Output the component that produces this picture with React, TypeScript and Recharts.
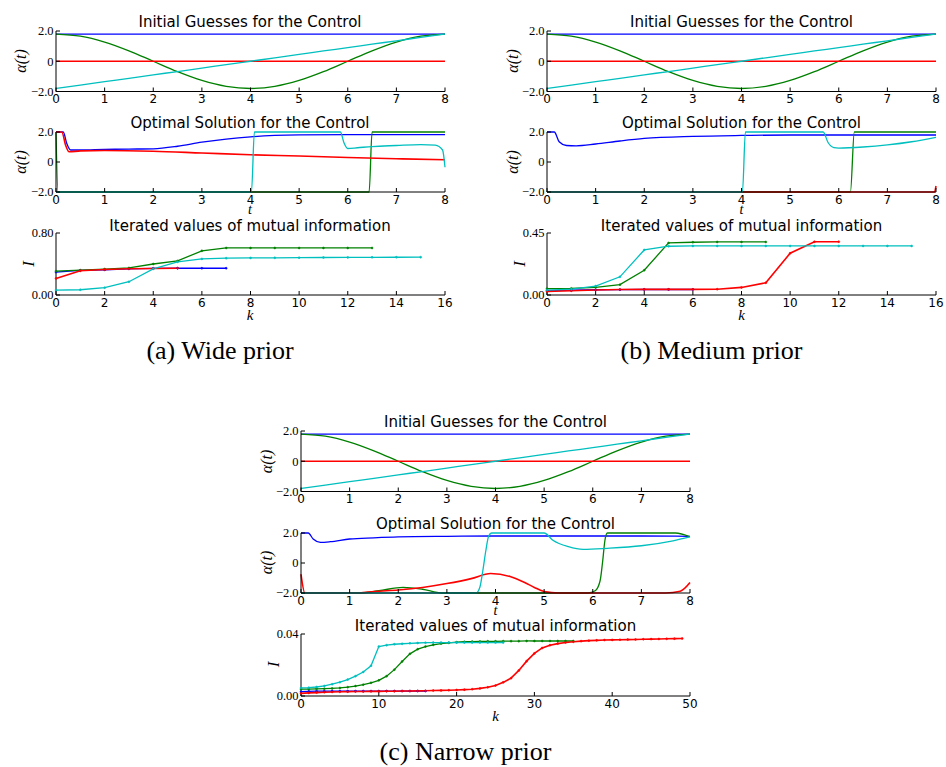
import React from 'react';
import { LineChart, Line, XAxis, YAxis } from 'recharts';

const BLUE = '#0000ff';
const GREEN = '#008000';
const RED = '#ff0000';
const CYAN = '#00bfbf';

// ---------- Initial guesses (identical in all three panels) ----------
const initTimes = [0, 0.5, 1, 1.5, 2, 2.5, 3, 3.5, 4, 4.5, 5, 5.5, 6, 6.5, 7, 7.5, 8];
const initBlue = [1.8, 1.8, 1.8, 1.8, 1.8, 1.8, 1.8, 1.8, 1.8, 1.8, 1.8, 1.8, 1.8, 1.8, 1.8, 1.8, 1.8];
const initGreen = [1.8, 1.66, 1.27, 0.69, 0, -0.69, -1.27, -1.66, -1.8, -1.66, -1.27, -0.69, 0, 0.69, 1.27, 1.66, 1.8];
const initRed = [0, 0, 0, 0, 0, 0, 0, 0, 0, 0, 0, 0, 0, 0, 0, 0, 0];
const initCyan = [-1.8, -1.58, -1.35, -1.13, -0.9, -0.68, -0.45, -0.23, 0, 0.23, 0.45, 0.68, 0.9, 1.13, 1.35, 1.58, 1.8];

// ---------- Optimal solutions [t, alpha] ----------
const optWideBlue = [[0, 2], [0.15, 2], [0.22, 1.25], [0.3, 0.8], [0.5, 0.8], [1, 0.84], [1.5, 0.86], [2, 0.88], [2.5, 1.05], [3, 1.32], [3.5, 1.53], [4, 1.68], [4.5, 1.77], [5, 1.81], [6, 1.83], [7, 1.83], [8, 1.83]];
const optWideGreen = [[0, 2], [0.04, -2], [6.44, -2], [6.5, 2], [8, 2]];
const optWideRed = [[0, 2], [0.12, 2], [0.2, 1.1], [0.27, 0.68], [0.5, 0.74], [1, 0.77], [2, 0.72], [3, 0.6], [4, 0.48], [5, 0.4], [6, 0.3], [7, 0.22], [8, 0.15]];
const optWideCyan = [[0, -2], [4.02, -2], [4.08, 2], [5.85, 2], [5.92, 1.3], [6, 0.9], [6.2, 0.95], [6.5, 1.03], [7, 1.1], [7.5, 1.16], [7.8, 1.12], [7.95, 0.8], [8, -0.35]];

const optMedBlue = [[0, 2], [0.15, 2], [0.25, 1.35], [0.4, 1.1], [0.6, 1.08], [1, 1.2], [1.5, 1.4], [2, 1.57], [3, 1.71], [4, 1.77], [5, 1.8], [6, 1.8], [7, 1.8], [8, 1.8]];
const optMedGreen = [[0, -2], [6.24, -2], [6.32, 2], [8, 2]];
const optMedRed = [[0, -2], [7.97, -2], [8, -1.6]];
const optMedCyan = [[0, -2], [4.02, -2], [4.08, 2], [5.68, 2], [5.78, 1.3], [5.9, 0.96], [6, 0.93], [6.5, 1.0], [7, 1.14], [7.5, 1.35], [8, 1.65]];

const optNarBlue = [[0, 2], [0.15, 2], [0.25, 1.6], [0.4, 1.38], [0.6, 1.42], [1, 1.6], [1.5, 1.68], [2, 1.74], [3, 1.78], [4, 1.8], [5, 1.8], [6, 1.8], [7, 1.8], [8, 1.78]];
const optNarGreen = [[0, -2], [1.2, -2], [1.6, -1.85], [2.1, -1.62], [2.5, -1.75], [2.9, -2], [5.9, -2], [6.05, -1.85], [6.15, -1.2], [6.2, 0], [6.25, 1.5], [6.3, 2], [7.7, 2], [8, 1.75]];
const optNarRed = [[0, -0.75], [0.08, -2], [1.2, -2], [1.5, -1.9], [2, -1.8], [2.5, -1.63], [3, -1.37], [3.5, -1.04], [3.9, -0.7], [4.3, -0.9], [4.6, -1.3], [4.8, -1.63], [5.0, -1.9], [5.3, -2], [7.5, -2], [7.8, -1.88], [8, -1.3]];
const optNarCyan = [[0, -2], [3.6, -2], [3.68, -1.6], [3.74, -0.5], [3.8, 0.8], [3.86, 1.8], [3.92, 2], [5.0, 2], [5.18, 1.52], [5.5, 1.09], [5.8, 0.91], [6.3, 0.98], [7, 1.15], [7.65, 1.48], [8, 1.74]];

// ---------- Iterated mutual information (value at k = 0, 1, 2, ...) ----------
const miWideBlue = [0.295, 0.317, 0.325, 0.338, 0.344, 0.345, 0.345, 0.345];
const miWideGreen = [0.308, 0.32, 0.334, 0.35, 0.4, 0.44, 0.57, 0.607, 0.607, 0.607, 0.607, 0.607, 0.607, 0.607];
const miWideRed = [0.214, 0.312, 0.33, 0.338, 0.342, 0.346];
const miWideCyan = [0.064, 0.068, 0.094, 0.171, 0.338, 0.428, 0.466, 0.475, 0.479, 0.48, 0.482, 0.484, 0.485, 0.486, 0.487, 0.488];

const miMedBlue = [0.032, 0.035, 0.038, 0.039, 0.04, 0.04, 0.04];
const miMedGreen = [0.046, 0.048, 0.055, 0.075, 0.18, 0.378, 0.383, 0.385, 0.385, 0.385];
const miMedRed = [0.026, 0.031, 0.036, 0.04, 0.041, 0.041, 0.041, 0.042, 0.055, 0.089, 0.303, 0.387, 0.387];
const miMedCyan = [0.036, 0.043, 0.065, 0.132, 0.327, 0.354, 0.356, 0.356, 0.356, 0.356, 0.356, 0.356, 0.356, 0.356, 0.356, 0.356];

const miNarBlue = [0.0028, 0.003, 0.0031, 0.0031, 0.0032, 0.0032, 0.0032, 0.0032, 0.0032, 0.0032, 0.0032, 0.0032, 0.0032, 0.0032, 0.0032, 0.0032, 0.0032];
const miNarGreen = [0.0044, 0.0045, 0.0046, 0.0047, 0.0049, 0.0052, 0.0057, 0.0064, 0.0073, 0.0085, 0.0101, 0.0128, 0.017, 0.0223, 0.0272, 0.0302, 0.0319, 0.033, 0.0338, 0.0343, 0.0347, 0.035, 0.0351, 0.0352, 0.0353, 0.0353, 0.0354, 0.0354, 0.0354, 0.0355, 0.0355, 0.0355, 0.0355, 0.0355, 0.0355, 0.0355];
const miNarRed = [0.0017, 0.002, 0.0022, 0.0024, 0.0026, 0.0027, 0.0028, 0.0029, 0.0029, 0.003, 0.003, 0.0031, 0.0031, 0.0032, 0.0032, 0.0033, 0.0034, 0.0035, 0.0036, 0.0037, 0.0039, 0.0041, 0.0044, 0.0049, 0.0056, 0.0068, 0.0088, 0.0115, 0.0165, 0.0225, 0.0275, 0.031, 0.0328, 0.0338, 0.0345, 0.035, 0.0354, 0.0357, 0.0359, 0.0361, 0.0362, 0.0363, 0.0364, 0.0365, 0.0366, 0.0367, 0.0368, 0.0369, 0.037, 0.0371];
const miNarCyan = [0.0052, 0.0054, 0.0058, 0.0065, 0.0076, 0.0089, 0.0106, 0.0128, 0.0155, 0.0195, 0.0319, 0.0328, 0.0334, 0.0337, 0.034, 0.0342, 0.0344, 0.0345, 0.0345, 0.0345, 0.0345, 0.0345, 0.0345, 0.0345, 0.0345, 0.0345, 0.0345];

// ---------- Axis ticks ----------
const tTicks = [0, 1, 2, 3, 4, 5, 6, 7, 8];
const alphaTicks = [-2, 0, 2];
const alphaTickLabels = ['\u22122.0', '0', '2.0'];
const kTicksWM = [0, 2, 4, 6, 8, 10, 12, 14, 16];
const kTicksN = [0, 10, 20, 30, 40, 50];
const miMaxWide = 0.8;
const miMaxMed = 0.45;
const miMaxNar = 0.04;
const miLabelsWide = ['0.00', '0.80'];
const miLabelsMed = ['0.00', '0.45'];
const miLabelsNar = ['0.00', '0.04'];

const titles = ['Initial Guesses for the Control', 'Optimal Solution for the Control', 'Iterated values of mutual information'];
const captions = ['(a) Wide prior', '(b) Medium prior', '(c) Narrow prior'];

// ---------- helpers ----------
const fromTimes = (ts: number[], vs: number[]) => ts.map((x, i) => ({ x, y: vs[i] }));
const fromPairs = (ps: number[][]) => ps.map(([x, y]) => ({ x, y }));
const fromIter = (vs: number[]) => vs.map((y, i) => ({ x: i, y }));

const noTick = () => <g />;

type S = { color: string; data: { x: number; y: number }[] };

function Plot(props: {
  left: number; top: number; w: number; h: number;
  xDomain: number[]; xTicks: number[];
  yDomain: number[]; yTicks: number[]; yLabels: string[];
  series: S[]; dots?: boolean; curve: 'monotone' | 'linear';
}) {
  const { left, top, w, h, xDomain, xTicks, yDomain, yTicks, yLabels, series, dots, curve } = props;
  const YW = 50, MT = 8, MR = 8, XH = 26;
  return (
    <div style={{ position: 'absolute', left: left - YW, top: top - MT }}>
      <LineChart width={YW + w + MR} height={MT + h + XH} margin={{ top: MT, right: MR, bottom: 0, left: 0 }}>
        <XAxis type="number" dataKey="x" domain={xDomain} ticks={xTicks} interval={0} height={XH}
          tickSize={-4} tickMargin={7} stroke="#000"
          tick={{ fontFamily: 'DejaVu Sans', fontSize: 12, fill: '#000' }} />
        <XAxis xAxisId="top" orientation="top" type="number" dataKey="x" domain={xDomain} ticks={xTicks} interval={0}
          height={0} tickSize={-4} stroke="#000" tick={noTick} />
        <YAxis type="number" domain={yDomain} ticks={yTicks} interval={0} width={YW}
          tickSize={-4} tickMargin={6.4} stroke="#000"
          tickFormatter={(v: number) => yLabels[yTicks.indexOf(v)] ?? String(v)}
          tick={{ fontFamily: 'Liberation Serif', fontSize: 12.5, fill: '#000' }} />
        <YAxis yAxisId="right" orientation="right" type="number" domain={yDomain} ticks={yTicks} interval={0}
          width={0} tickSize={-4} stroke="#000" tick={noTick} />
        {series.map((s, i) => (
          <Line key={i} data={s.data} dataKey="y" type={curve} stroke={s.color}
            strokeWidth={s.color === RED ? 1.6 : 1.3}
            dot={dots ? { r: 1, fill: s.color, stroke: s.color, strokeWidth: 0.5 } : false}
            activeDot={false} isAnimationActive={false} />
        ))}
      </LineChart>
    </div>
  );
}

const PL = 55.5;
const PW = 389;
const ROWS = [{ top: 30.5, h: 60.5 }, { top: 132, h: 60 }, { top: 233, h: 62 }];
const PANELS = [{ ox: 0, oy: 0 }, { ox: 491.5, oy: 0 }, { ox: 245.5, oy: 400.5 }];

export default function App() {
  const initSeries: S[] = [
    { color: BLUE, data: fromTimes(initTimes, initBlue) },
    { color: GREEN, data: fromTimes(initTimes, initGreen) },
    { color: RED, data: fromTimes(initTimes, initRed) },
    { color: CYAN, data: fromTimes(initTimes, initCyan) },
  ];
  const optSeries: S[][] = [
    [{ color: BLUE, data: fromPairs(optWideBlue) }, { color: GREEN, data: fromPairs(optWideGreen) }, { color: RED, data: fromPairs(optWideRed) }, { color: CYAN, data: fromPairs(optWideCyan) }],
    [{ color: BLUE, data: fromPairs(optMedBlue) }, { color: GREEN, data: fromPairs(optMedGreen) }, { color: RED, data: fromPairs(optMedRed) }, { color: CYAN, data: fromPairs(optMedCyan) }],
    [{ color: BLUE, data: fromPairs(optNarBlue) }, { color: GREEN, data: fromPairs(optNarGreen) }, { color: RED, data: fromPairs(optNarRed) }, { color: CYAN, data: fromPairs(optNarCyan) }],
  ];
  const miSeries: S[][] = [
    [{ color: BLUE, data: fromIter(miWideBlue) }, { color: GREEN, data: fromIter(miWideGreen) }, { color: RED, data: fromIter(miWideRed) }, { color: CYAN, data: fromIter(miWideCyan) }],
    [{ color: BLUE, data: fromIter(miMedBlue) }, { color: GREEN, data: fromIter(miMedGreen) }, { color: RED, data: fromIter(miMedRed) }, { color: CYAN, data: fromIter(miMedCyan) }],
    [{ color: BLUE, data: fromIter(miNarBlue) }, { color: GREEN, data: fromIter(miNarGreen) }, { color: RED, data: fromIter(miNarRed) }, { color: CYAN, data: fromIter(miNarCyan) }],
  ];
  const miMax = [miMaxWide, miMaxMed, miMaxNar];
  const miLabels = [miLabelsWide, miLabelsMed, miLabelsNar];
  const kTicks = [kTicksWM, kTicksWM, kTicksN];

  const serif = 'Liberation Serif, DejaVu Serif, serif';
  const sans = 'DejaVu Sans, sans-serif';

  return (
    <div style={{ position: 'absolute', left: 0, top: 0, width: 946, height: 767, background: '#fff', overflow: 'hidden' }}>
      {PANELS.map((p, pi) => (
        <React.Fragment key={pi}>
          <Plot left={p.ox + PL} top={p.oy + ROWS[0].top} w={PW} h={ROWS[0].h}
            xDomain={[0, 8]} xTicks={tTicks} yDomain={[-2, 2]} yTicks={alphaTicks} yLabels={alphaTickLabels}
            series={initSeries} curve="monotone" />
          <Plot left={p.ox + PL} top={p.oy + ROWS[1].top} w={PW} h={ROWS[1].h}
            xDomain={[0, 8]} xTicks={tTicks} yDomain={[-2, 2]} yTicks={alphaTicks} yLabels={alphaTickLabels}
            series={optSeries[pi]} curve="monotone" />
          <Plot left={p.ox + PL} top={p.oy + ROWS[2].top} w={PW} h={ROWS[2].h}
            xDomain={[0, kTicks[pi][kTicks[pi].length - 1]]} xTicks={kTicks[pi]}
            yDomain={[0, miMax[pi]]} yTicks={[0, miMax[pi]]} yLabels={miLabels[pi]}
            series={miSeries[pi]} curve="linear" dots />
        </React.Fragment>
      ))}
      <svg width={946} height={767} style={{ position: 'absolute', left: 0, top: 0, pointerEvents: 'none' }}>
        {PANELS.map((p, pi) => {
          const cx = p.ox + PL + PW / 2;
          return (
            <g key={pi}>
              <text x={cx} y={p.oy + 21.7} textAnchor="middle" dominantBaseline="central" fontFamily={sans} fontSize={15}>{titles[0]}</text>
              <text x={cx} y={p.oy + 123.3} textAnchor="middle" dominantBaseline="central" fontFamily={sans} fontSize={15}>{titles[1]}</text>
              <text x={cx} y={p.oy + 225.5} textAnchor="middle" dominantBaseline="central" fontFamily={sans} fontSize={15}>{titles[2]}</text>
              <text transform={`translate(${p.ox + 20.5},${p.oy + 61}) rotate(-90)`} textAnchor="middle" dominantBaseline="central" fontFamily={serif} fontStyle="italic" fontSize={16}>α(t)</text>
              <text transform={`translate(${p.ox + 20.5},${p.oy + 162}) rotate(-90)`} textAnchor="middle" dominantBaseline="central" fontFamily={serif} fontStyle="italic" fontSize={16}>α(t)</text>
              <text transform={`translate(${p.ox + 28},${p.oy + 264}) rotate(-90)`} textAnchor="middle" dominantBaseline="central" fontFamily={serif} fontStyle="italic" fontSize={17}>I</text>
              <text x={cx} y={p.oy + 209.5} textAnchor="middle" dominantBaseline="central" fontFamily={serif} fontStyle="italic" fontSize={14}>t</text>
              <text x={cx} y={p.oy + 315} textAnchor="middle" dominantBaseline="central" fontFamily={serif} fontStyle="italic" fontSize={15}>k</text>
              <text x={p.ox + 220} y={p.oy + 359} textAnchor="middle" fontFamily={serif} fontSize={26}>{captions[pi]}</text>
            </g>
          );
        })}
      </svg>
    </div>
  );
}
